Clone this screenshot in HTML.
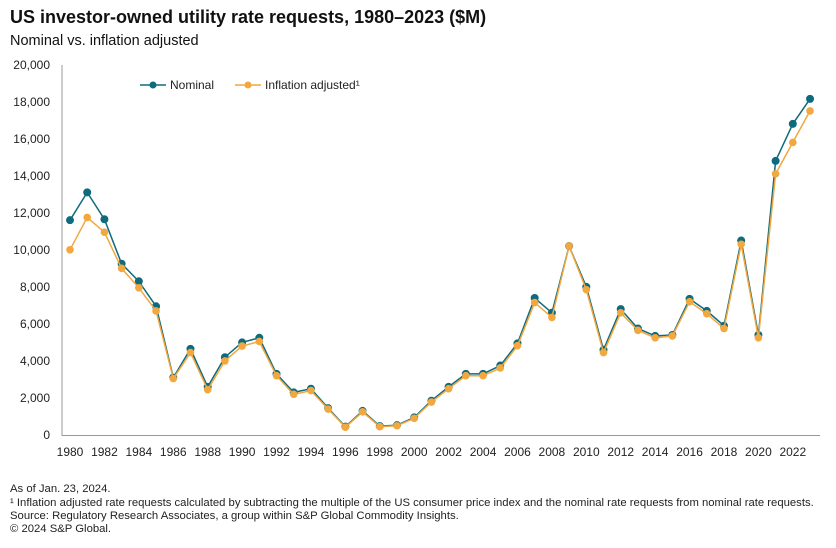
<!DOCTYPE html>
<html><head><meta charset="utf-8"><style>
body{margin:0;background:#fff;width:836px;height:548px;overflow:hidden;font-family:"Liberation Sans",sans-serif;}
svg{position:absolute;left:0;top:0}
</style></head><body>
<svg id="c" width="836" height="548" xmlns="http://www.w3.org/2000/svg" font-family="Liberation Sans, sans-serif">
<text x="10" y="23" font-size="18" font-weight="bold" fill="#111">US investor-owned utility rate requests, 1980–2023  ($M)</text>
<text x="10" y="45" font-size="14.5" fill="#111">Nominal vs. inflation adjusted</text>
<g font-size="12" fill="#222" text-anchor="end">
<text x="50" y="439">0</text><text x="50" y="402">2,000</text><text x="50" y="365">4,000</text><text x="50" y="328">6,000</text><text x="50" y="291">8,000</text><text x="50" y="254">10,000</text><text x="50" y="217">12,000</text><text x="50" y="180">14,000</text><text x="50" y="143">16,000</text><text x="50" y="106">18,000</text><text x="50" y="69">20,000</text>
</g>
<line x1="62" y1="65" x2="62" y2="436" stroke="#999" stroke-width="1"/>
<line x1="62" y1="435.5" x2="820" y2="435.5" stroke="#999" stroke-width="1"/>
<g font-size="12" fill="#222" text-anchor="middle" id="xl"></g>
<g id="series"></g>
<line x1="140" y1="85" x2="166" y2="85" stroke="#0e6b7d" stroke-width="1.5"/><circle cx="153" cy="85" r="3.5" fill="#0e6b7d"/>
<text x="170" y="89" font-size="12" fill="#222">Nominal</text>
<line x1="235" y1="85" x2="261" y2="85" stroke="#f2a73f" stroke-width="1.5"/><circle cx="248" cy="85" r="3.5" fill="#f2a73f"/>
<text x="265" y="89" font-size="12" fill="#222">Inflation adjusted¹</text>
<g font-size="11.3" fill="#222">
<text x="10" y="492">As of Jan. 23, 2024.</text>
<text x="10" y="506">¹ Inflation adjusted rate requests calculated by subtracting the multiple of the US consumer price index and the nominal rate requests from nominal rate requests.</text>
<text x="10" y="519">Source: Regulatory Research Associates, a group within S&amp;P Global Commodity Insights.</text>
<text x="10" y="532">© 2024 S&amp;P Global.</text>
</g>
</svg>
<script>
var N=[11600,13100,11650,9250,8300,6950,3100,4650,2600,4200,5000,5250,3300,2300,2500,1450,450,1300,480,530,950,1850,2600,3300,3300,3750,4950,7400,6600,10200,8000,4600,6800,5750,5350,5400,7350,6700,5900,10500,5400,14800,16800,18150];
var I=[10000,11750,10950,9000,7950,6700,3050,4450,2450,4000,4800,5050,3200,2200,2400,1400,420,1250,450,500,900,1780,2500,3200,3200,3620,4820,7150,6350,10200,7850,4450,6600,5650,5250,5350,7200,6550,5750,10300,5250,14100,15800,17500];
function X(i){return 70+i*17.21}function Y(v){return 435-v*0.01852}
var ns="http://www.w3.org/2000/svg",g=document.getElementById("series");
function draw(d,c,r){var p=d.map(function(v,i){return X(i).toFixed(1)+","+Y(v).toFixed(1)}).join(" ");
var l=document.createElementNS(ns,"polyline");l.setAttribute("points",p);l.setAttribute("fill","none");l.setAttribute("stroke",c);l.setAttribute("stroke-width","1.5");g.appendChild(l);
d.forEach(function(v,i){var e=document.createElementNS(ns,"circle");e.setAttribute("cx",X(i));e.setAttribute("cy",Y(v));e.setAttribute("r",r);e.setAttribute("fill",c);g.appendChild(e);});}
draw(N,"#0e6b7d",4);draw(I,"#f2a73f",3.8);
var xl=document.getElementById("xl");
for(var y=1980;y<=2022;y+=2){var t=document.createElementNS(ns,"text");t.setAttribute("x",X(y-1980));t.setAttribute("y",456);t.textContent=y;xl.appendChild(t);}
</script>
</body></html>
